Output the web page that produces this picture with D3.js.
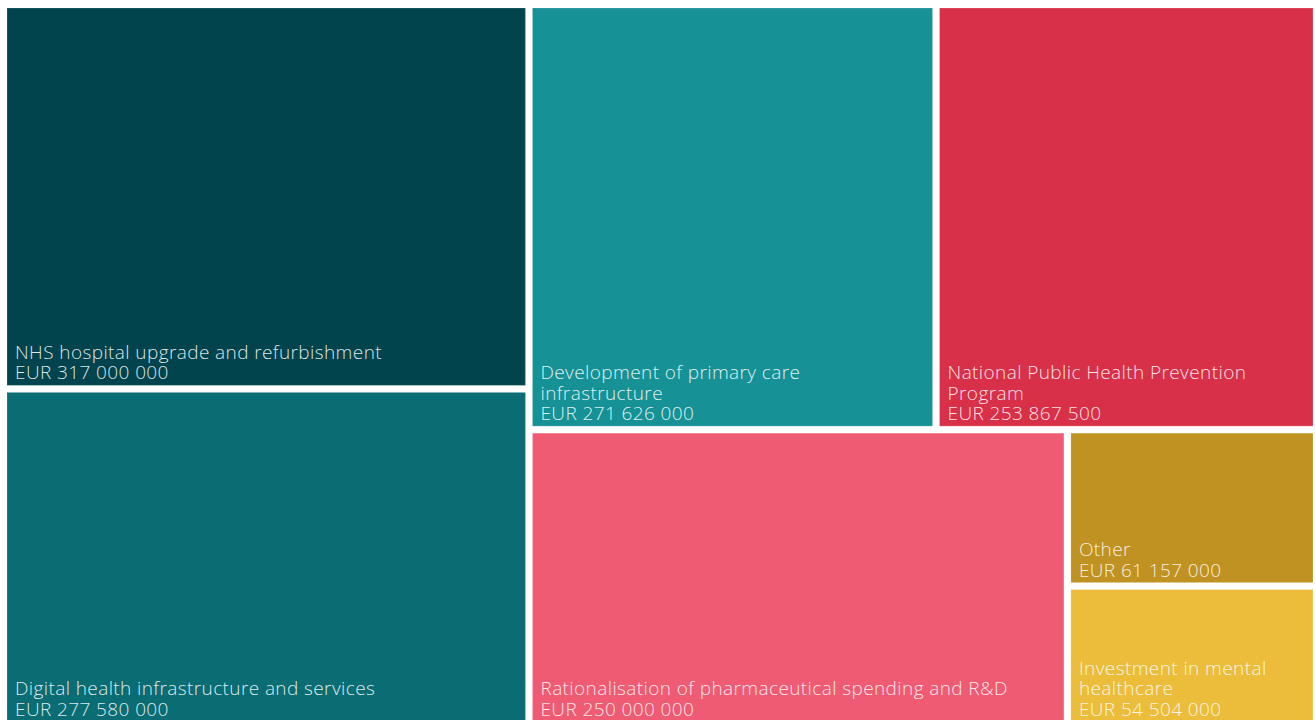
<!DOCTYPE html>
<html>
<head>
<meta charset="utf-8">
<script src="https://cdn.jsdelivr.net/npm/d3@7"></script>
<style>
  body { margin: 0; background: #fff; overflow: hidden; }
  svg { display: block; }
  .label { font-family: "Open Sans", sans-serif; font-weight: 300; font-size: 19px; letter-spacing: 0.4px; fill: #fff; fill-opacity: 0.88; }
</style>
</head>
<body>
<svg id="chart" width="1315" height="720"></svg>
<script>
const categories = [
  'NHS hospital upgrade and refurbishment',
  'Digital health infrastructure and services',
  'Development of primary care infrastructure',
  'National Public Health Prevention Program',
  'Rationalisation of pharmaceutical spending and R&D',
  'Other',
  'Investment in mental healthcare',
];
const amounts = [317000000, 277580000, 271626000, 253867500, 250000000, 61157000, 54504000];
const colors = ['#01444e', '#0a6d74', '#169296', '#d9304a', '#f05b74', '#c09221', '#ebbd3b'];

const marginLeft = 7, marginTop = 8;
const innerW = 1306, innerH = 714;

// squarified rows, but the strip direction flips after every row
function alternatingSquarify(parent, x0, y0, x1, y1) {
  const nodes = parent.children;
  let value = parent.value;
  let i0 = 0;
  let vertical = true;
  const worst = (row, sum, dx, dy) => {
    let w = 0;
    row.forEach((n) => {
      let a, b;
      if (vertical) { a = dx * sum / value; b = dy * n.value / sum; }
      else { a = dy * sum / value; b = dx * n.value / sum; }
      w = Math.max(w, a / b, b / a);
    });
    return w;
  };
  while (i0 < nodes.length) {
    const dx = x1 - x0, dy = y1 - y0;
    let i1 = i0 + 1;
    let sum = nodes[i0].value;
    let best = worst(nodes.slice(i0, i1), sum, dx, dy);
    while (i1 < nodes.length) {
      const s = sum + nodes[i1].value;
      const r = worst(nodes.slice(i0, i1 + 1), s, dx, dy);
      if (r > best) break;
      best = r; sum = s; i1++;
    }
    const row = { children: nodes.slice(i0, i1), value: sum };
    if (vertical) {
      const x = x0 + dx * sum / value;
      d3.treemapSlice(row, x0, y0, x, y1);
      x0 = x;
    } else {
      const y = y0 + dy * sum / value;
      d3.treemapDice(row, x0, y0, x1, y);
      y0 = y;
    }
    value -= sum;
    i0 = i1;
    vertical = !vertical;
  }
}

const root = d3.hierarchy({
  children: categories.map((name, i) => ({ name, value: amounts[i], color: colors[i] })),
})
  .sum((d) => d.value || 0)
  .sort((a, b) => b.value - a.value);

d3.treemap()
  .tile(alternatingSquarify)
  .size([innerW, innerH])
  .paddingInner(7)(root);

const fmt = (v) => 'EUR ' + d3.format(',')(v).replace(/,/g, ' ');

const svg = d3.select('#chart');
const g = svg.append('g').attr('transform', `translate(${marginLeft},${marginTop})`);

const cell = g.selectAll('g.cell')
  .data(root.leaves())
  .join('g')
  .attr('class', 'cell')
  .attr('transform', (d) => `translate(${d.x0},${d.y0})`);

cell.append('rect')
  .attr('width', (d) => d.x1 - d.x0)
  .attr('height', (d) => d.y1 - d.y0)
  .attr('fill', (d) => d.data.color)
  .attr('stroke', 'rgba(255,255,255,0.18)')
  .attr('stroke-width', 1);

const lineH = 20.5;

cell.each(function (d) {
  const el = d3.select(this);
  const maxW = d.x1 - d.x0 - 18;
  const probe = el.append('text').attr('class', 'label');
  const words = d.data.name.split(' ');
  const lines = [];
  let cur = '';
  words.forEach((w) => {
    const test = cur ? cur + ' ' + w : w;
    probe.text(test);
    if (probe.node().getComputedTextLength() > maxW && cur) {
      lines.push(cur);
      cur = w;
    } else {
      cur = test;
    }
  });
  lines.push(cur);
  lines.push(fmt(d.data.value));
  probe.remove();

  const h = d.y1 - d.y0;
  const text = el.append('text').attr('class', 'label');
  lines.forEach((ln, i) => {
    text.append('tspan')
      .attr('x', 8)
      .attr('y', h - 6 - (lines.length - 1 - i) * lineH)
      .text(ln);
  });
});
</script>
</body>
</html>
